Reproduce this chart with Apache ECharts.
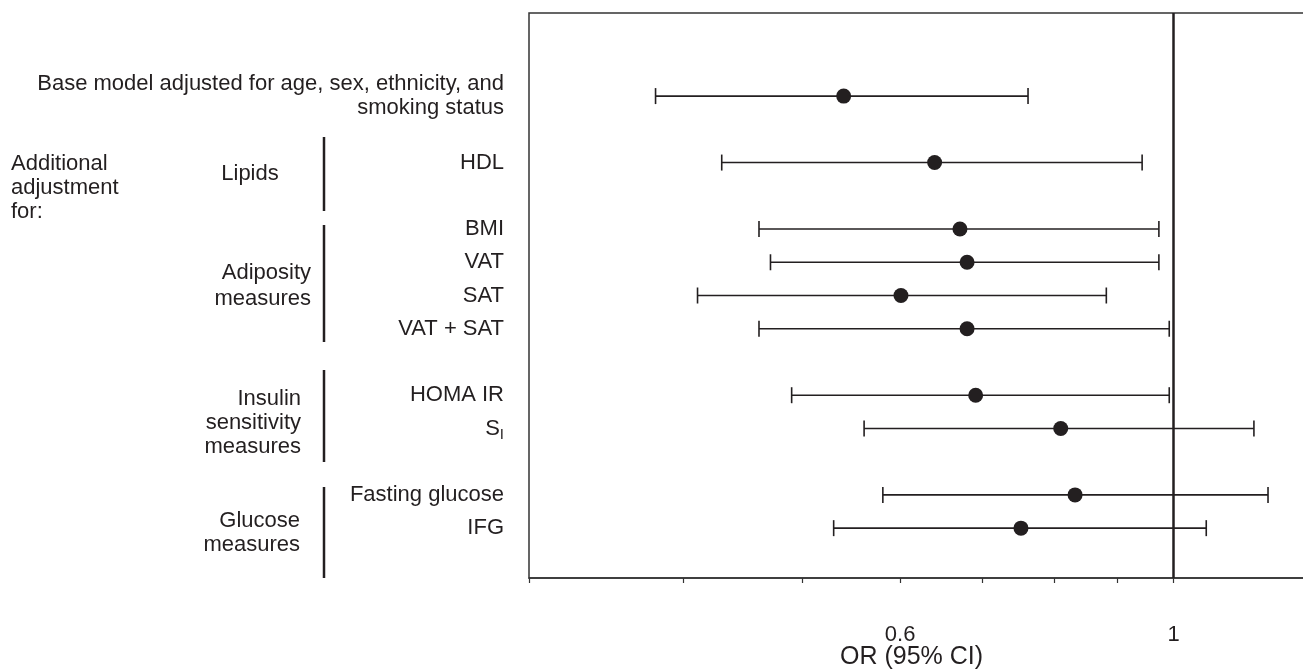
<!DOCTYPE html>
<html>
<head>
<meta charset="utf-8">
<script src="https://cdn.jsdelivr.net/npm/echarts@6/dist/echarts.min.js"></script>
<style>
html,body{margin:0;padding:0;background:#fff;}
#chart{width:1303px;height:671px;}
</style>
</head>
<body>
<div id="chart"></div>
<script>
// ---- data ----
const categories = ['', '', 'Base model adjusted for age, sex, ethnicity, and\nsmoking status', '', 'HDL', '', 'BMI', 'VAT', 'SAT', 'VAT + SAT', '', 'HOMA IR', 'S_I', '', 'Fasting glucose', 'IFG', ''];
const rowLabels = ['Base model adjusted for age, sex, ethnicity, and\nsmoking status', 'HDL', 'BMI', 'VAT', 'SAT', 'VAT + SAT', 'HOMA IR', 'S_I', 'Fasting glucose', 'IFG'];
const orEstimate = [0.540, 0.640, 0.671, 0.680, 0.601, 0.680, 0.691, 0.810, 0.832, 0.752];
const ciLow      = [0.380, 0.430, 0.461, 0.471, 0.411, 0.461, 0.490, 0.561, 0.581, 0.530];
const ciHigh     = [0.762, 0.943, 0.973, 0.973, 0.882, 0.992, 0.992, 1.162, 1.193, 1.063];
const xTicks = [0.3, 0.4, 0.5, 0.6, 0.7, 0.8, 0.9, 1];
const xTickLabels = [0.6, 1];
const referenceLine = 1;

const FONT = "'Liberation Sans', Arial, Helvetica, sans-serif";
const INK = '#231f20';

const rowIdx = rowLabels.map(l => categories.indexOf(l));
const ciData = rowLabels.map((l, i) => [rowIdx[i], ciLow[i], ciHigh[i]]);
const ptData = rowLabels.map((l, i) => [orEstimate[i], rowIdx[i]]);

const chart = echarts.init(document.getElementById('chart'), null, {renderer: 'canvas'});

function gText(text, x, y, align, lh) {
  return {
    type: 'text', silent: true,
    style: {text: text, x: x, y: y, align: align, verticalAlign: 'middle',
            font: '22px ' + FONT, fill: INK, lineHeight: lh || 24}
  };
}
function gBar(x, y1, y2) {
  return {type: 'line', silent: true, shape: {x1: x, y1: y1, x2: x, y2: y2},
          style: {stroke: INK, lineWidth: 2.5}};
}

chart.setOption({
  animation: false,
  backgroundColor: '#fff',
  grid: {left: 529, right: -11, top: 13, bottom: 93, show: true, outerBoundsMode: 'none',
         containLabel: false,
         borderColor: '#333', borderWidth: 1.5, backgroundColor: 'transparent'},
  xAxis: {
    type: 'log', logBase: 10, min: 0.3, max: 1.3,
    name: 'OR (95% CI)', nameLocation: 'middle', nameGap: 67, nameMoveOverlap: false,
    nameTextStyle: {fontFamily: FONT, fontSize: 25, color: INK, padding: [0, 20, 0, 0]},
    axisLine: {show: true, lineStyle: {color: '#333', width: 1.5}},
    axisTick: {show: true, customValues: xTicks, length: 5, lineStyle: {color: '#333', width: 1.2}},
    axisLabel: {show: true, customValues: xTickLabels, margin: 46,
                formatter: v => String(Math.round(v * 100) / 100),
                fontFamily: FONT, fontSize: 22, color: INK},
    splitLine: {show: false}, minorTick: {show: false}, minorSplitLine: {show: false}
  },
  yAxis: {
    type: 'category', data: categories, inverse: true, boundaryGap: true,
    axisLine: {show: false}, axisTick: {show: false}, splitLine: {show: false},
    axisLabel: {
      interval: 0, margin: 25, fontFamily: FONT, fontSize: 22, color: INK, lineHeight: 24,
      formatter: v => v === 'S_I' ? '{s|S}{sub|I}' : v,
      rich: {
        s: {fontFamily: FONT, fontSize: 22, color: INK},
        sub: {fontFamily: FONT, fontSize: 15, color: INK, padding: [12, 0, 0, 0]}
      }
    }
  },
  series: [
    {
      type: 'custom', data: ciData, encode: {x: [1, 2], y: 0}, silent: true, z: 2,
      renderItem: function (params, api) {
        const lo = api.coord([api.value(1), api.value(0)]);
        const hi = api.coord([api.value(2), api.value(0)]);
        const h = 8;
        const st = {stroke: INK, lineWidth: 1.6};
        return {type: 'group', children: [
          {type: 'line', shape: {x1: lo[0], y1: lo[1], x2: hi[0], y2: hi[1]}, style: st},
          {type: 'line', shape: {x1: lo[0], y1: lo[1] - h, x2: lo[0], y2: lo[1] + h}, style: st},
          {type: 'line', shape: {x1: hi[0], y1: hi[1] - h, x2: hi[0], y2: hi[1] + h}, style: st}
        ]};
      }
    },
    {
      type: 'scatter', data: ptData, symbol: 'circle', symbolSize: 15, silent: true, z: 3,
      itemStyle: {color: INK, opacity: 1},
      markLine: {
        silent: true, symbol: ['none', 'none'], label: {show: false},
        lineStyle: {color: INK, width: 2.5, type: 'solid', opacity: 1},
        data: [{xAxis: referenceLine}]
      }
    }
  ],
  graphic: [
    gText('Additional\nadjustment\nfor:', 11, 188, 'left', 24),
    gText('Lipids', 250, 174, 'center'),
    gText('Adiposity\nmeasures', 311, 286, 'right', 26),
    gText('Insulin\nsensitivity\nmeasures', 301, 423, 'right', 24),
    gText('Glucose\nmeasures', 300, 533, 'right', 24),
    gBar(324, 137, 211),
    gBar(324, 225, 342),
    gBar(324, 370, 462),
    gBar(324, 487, 578)
  ]
});
</script>
</body>
</html>
